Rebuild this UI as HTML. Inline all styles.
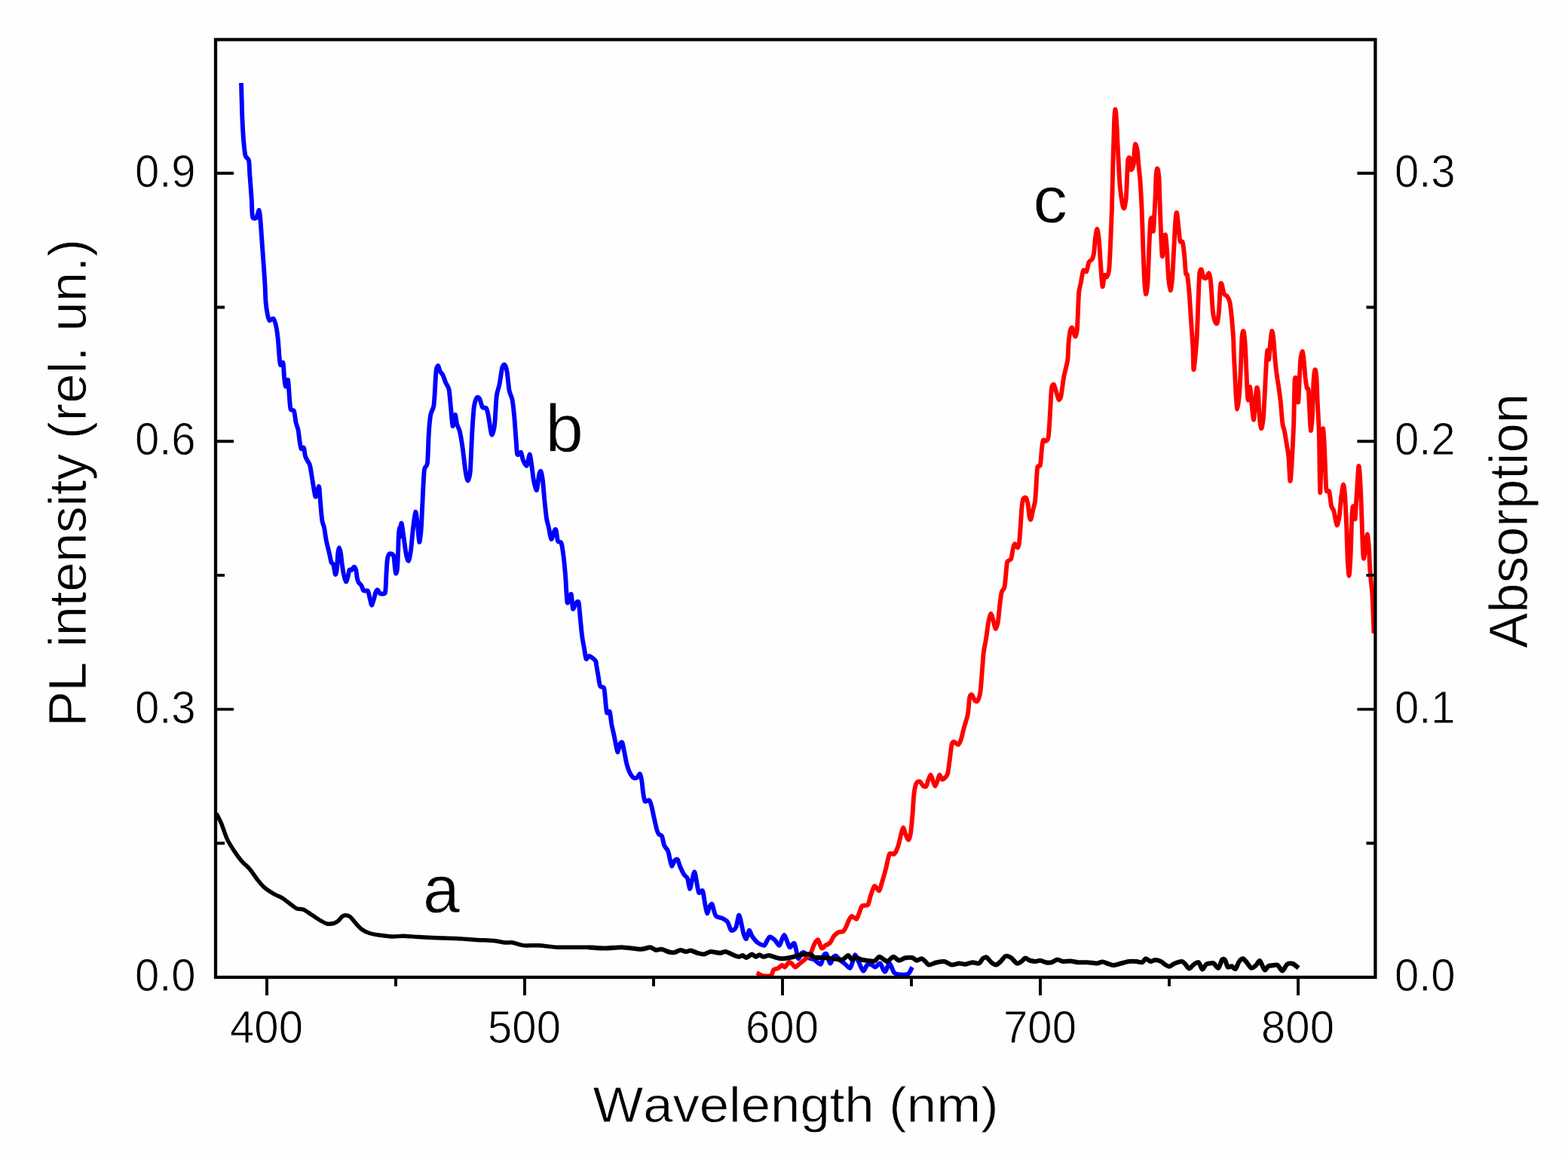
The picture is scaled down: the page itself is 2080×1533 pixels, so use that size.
<!DOCTYPE html>
<html lang="en">
<head>
<meta charset="utf-8">
<title>PL intensity and absorption spectra</title>
<style>
html,body{margin:0;padding:0;background:#fefefe;}
body{width:2080px;height:1533px;overflow:hidden;}
svg{display:block;}
text{font-kerning:none;}
</style>
</head>
<body>
<svg width="2080" height="1533" viewBox="0 0 2080 1533">
<rect x="0" y="0" width="2080" height="1533" fill="#fefefe"/>
<defs><clipPath id="plotclip"><rect x="286.0" y="52.5" width="1538.4" height="1243.5"/></clipPath></defs>
<g clip-path="url(#plotclip)">
<path d="M320.0 110.0C320.2 115.7 320.9 142.5 321.2 152.5C321.6 162.5 322.4 177.8 323.0 185.0C323.6 192.2 324.6 202.6 325.5 206.2C326.4 209.9 329.2 209.3 330.0 212.5C330.8 215.7 330.8 223.0 331.2 230.0C331.8 237.0 333.2 257.3 333.8 265.0C334.2 272.7 334.2 284.3 335.0 287.5C335.8 290.7 338.8 289.9 340.0 288.8C341.2 287.6 343.0 278.2 343.8 278.8C344.5 279.2 344.9 286.0 345.5 292.5C346.1 299.0 347.2 316.8 348.0 327.5C348.8 338.2 350.6 362.8 351.2 372.5C351.9 382.2 352.0 394.0 352.5 400.0C353.0 406.0 354.3 414.2 355.0 417.5C355.7 420.8 356.5 424.3 357.5 425.0C358.5 425.7 361.3 421.5 362.5 422.5C363.7 423.5 365.4 428.8 366.2 432.5C367.1 436.2 368.2 444.7 368.8 450.0C369.3 455.3 370.1 468.0 370.5 472.5C370.9 477.0 371.3 482.6 372.0 483.8C372.7 484.9 374.8 479.1 375.5 481.2C376.2 483.4 376.6 495.8 377.0 500.0C377.4 504.2 378.1 512.0 378.8 512.5C379.4 513.0 381.3 502.1 382.0 503.8C382.7 505.4 383.3 519.8 383.8 525.0C384.2 530.2 384.7 539.8 385.5 542.5C386.3 545.2 389.1 542.7 390.0 545.0C390.9 547.3 391.8 556.7 392.5 560.0C393.2 563.3 394.8 566.7 395.5 570.0C396.2 573.3 397.0 581.7 397.5 585.0C398.0 588.3 398.8 593.8 399.5 595.0C400.2 596.2 402.3 592.4 403.0 593.8C403.7 595.1 404.2 602.5 405.0 605.0C405.8 607.5 407.9 610.8 408.8 612.5C409.6 614.2 410.6 614.8 411.2 617.5C411.9 620.2 413.1 628.5 413.8 632.5C414.4 636.5 415.6 644.0 416.2 647.5C416.9 651.0 417.9 659.1 418.8 658.8C419.6 658.4 422.2 644.8 423.0 645.0C423.8 645.2 424.1 655.3 424.5 660.0C424.9 664.7 425.9 675.8 426.2 680.0C426.6 684.2 427.0 688.6 427.5 691.2C428.0 693.9 429.4 696.6 430.1 700.0C430.8 703.4 431.9 712.3 432.8 716.8C433.7 721.3 435.9 729.8 436.8 733.6C437.7 737.5 438.8 743.8 439.5 745.8C440.2 747.7 441.5 746.3 442.2 748.5C442.9 750.6 444.3 761.2 444.9 761.9C445.5 762.6 446.5 757.6 446.9 753.9C447.4 750.1 447.9 737.3 448.3 733.6C448.7 730.0 449.5 726.2 449.9 726.2C450.4 726.2 451.5 730.9 452.0 733.6C452.5 736.4 453.2 743.5 453.6 747.1C454.1 750.7 455.0 757.3 455.7 760.6C456.4 763.8 458.2 770.9 459.0 771.4C459.8 771.8 461.1 766.0 461.7 763.9C462.3 761.9 462.8 756.9 463.4 755.9C464.0 754.8 465.6 756.4 466.4 755.9C467.3 755.3 469.0 751.8 469.8 751.8C470.6 751.8 471.6 753.8 472.2 755.9C472.7 757.9 473.4 765.1 473.9 767.3C474.3 769.6 475.2 771.5 475.9 772.7C476.6 773.9 478.4 774.7 479.2 776.1C480.0 777.4 481.2 781.8 481.9 782.8C482.6 783.8 483.8 783.4 484.6 783.5C485.4 783.5 487.3 782.5 488.0 783.5C488.7 784.4 489.5 788.7 490.0 790.9C490.5 793.0 491.6 798.1 492.0 799.6C492.5 801.1 492.8 803.0 493.4 802.3C493.9 801.6 495.4 796.4 496.1 794.2C496.7 792.1 497.5 787.8 498.1 786.1C498.7 784.5 500.0 782.0 500.8 782.1C501.5 782.2 502.9 786.1 503.8 786.8C504.7 787.5 506.6 787.6 507.5 787.5C508.4 787.4 510.3 787.9 510.9 786.1C511.5 784.4 511.7 777.4 511.9 774.0C512.1 770.6 512.3 764.6 512.5 760.6C512.8 756.5 513.2 747.1 513.6 743.8C514.0 740.4 514.9 736.9 515.6 735.7C516.3 734.4 518.0 734.1 518.9 734.3C519.8 734.6 521.6 735.1 522.3 737.7C523.0 740.3 523.6 750.8 524.0 753.9C524.4 756.9 524.9 760.6 525.3 760.6C525.7 760.6 526.7 757.4 527.0 753.9C527.4 750.3 527.8 739.0 528.0 733.6C528.3 728.3 528.5 717.9 528.7 713.5C528.9 709.0 529.5 700.1 529.7 700.0C529.9 699.9 529.6 713.3 530.0 712.5C530.4 711.7 531.8 693.8 532.5 693.8C533.2 693.8 534.7 707.0 535.5 712.5C536.3 718.0 537.9 730.8 538.8 735.0C539.6 739.2 541.2 744.4 542.0 743.8C542.8 743.1 544.2 735.8 545.0 730.0C545.8 724.2 547.2 706.8 548.0 700.0C548.8 693.2 550.5 679.4 551.2 678.8C552.0 678.1 553.1 689.7 553.8 695.0C554.4 700.3 555.6 718.1 556.2 718.8C556.9 719.4 558.1 709.2 558.8 700.0C559.4 690.8 560.7 660.3 561.2 650.0C561.8 639.7 562.2 627.3 563.0 622.5C563.8 617.7 566.2 620.1 567.0 613.8C567.8 607.4 568.2 583.5 568.8 575.0C569.3 566.5 570.4 555.0 571.2 550.0C572.1 545.0 574.7 543.2 575.5 537.5C576.3 531.8 577.1 513.8 577.5 507.5C577.9 501.2 578.2 493.0 578.8 490.0C579.2 487.0 580.6 484.7 581.2 485.0C581.9 485.3 582.9 490.8 583.8 492.5C584.6 494.2 586.5 495.5 587.5 497.5C588.5 499.5 590.2 505.0 591.2 507.5C592.3 510.0 594.6 511.9 595.5 516.2C596.4 520.6 597.3 533.5 598.0 540.0C598.7 546.5 599.7 563.7 600.5 565.0C601.3 566.3 603.0 550.3 603.8 550.0C604.5 549.7 605.4 559.5 606.2 562.5C607.1 565.5 609.0 568.2 610.0 572.5C611.0 576.8 612.8 588.0 613.8 595.0C614.8 602.0 616.6 619.3 617.5 625.0C618.4 630.7 619.7 637.5 620.5 637.5C621.3 637.5 623.0 633.3 623.8 625.0C624.5 616.7 625.6 586.3 626.2 575.0C626.9 563.7 627.9 546.3 628.8 540.0C629.6 533.7 631.5 529.0 632.5 527.5C633.5 526.0 635.2 527.1 636.2 528.8C637.2 530.4 638.8 538.3 640.0 540.0C641.2 541.7 643.9 539.6 645.0 541.2C646.1 542.9 647.2 548.3 648.0 552.5C648.8 556.7 650.6 569.3 651.2 572.5C651.9 575.7 652.3 577.6 653.0 576.2C653.7 574.9 655.5 569.3 656.2 562.5C657.0 555.7 657.9 532.0 658.8 525.0C659.6 518.0 661.5 515.0 662.5 510.0C663.5 505.0 665.3 491.0 666.2 487.5C667.2 484.0 668.7 483.1 669.5 483.8C670.3 484.4 671.7 488.0 672.5 492.5C673.3 497.0 674.6 512.5 675.5 517.5C676.4 522.5 678.6 525.7 679.5 530.0C680.4 534.3 681.3 543.0 682.0 550.0C682.7 557.0 683.9 575.5 684.5 582.5C685.1 589.5 685.4 600.2 686.2 602.5C687.1 604.8 690.2 599.0 691.2 600.0C692.2 601.0 692.8 607.7 693.8 610.0C694.8 612.3 697.6 618.5 698.8 617.5C699.9 616.5 701.7 602.8 702.5 602.5C703.3 602.2 704.3 610.3 705.0 615.0C705.7 619.7 707.1 632.8 708.0 637.5C708.9 642.2 711.1 651.0 712.0 650.0C712.9 649.0 714.3 633.3 715.0 630.0C715.7 626.7 716.8 624.0 717.5 625.0C718.2 626.0 719.3 632.2 720.0 637.5C720.7 642.8 721.8 658.3 722.5 665.0C723.2 671.7 724.3 682.8 725.0 687.5C725.7 692.2 727.2 696.3 728.0 700.0C728.8 703.7 730.3 714.3 731.2 715.0C732.2 715.7 734.2 706.7 735.0 705.0C735.8 703.3 736.8 700.8 737.5 702.5C738.2 704.2 739.1 715.2 740.0 717.5C740.9 719.8 743.5 717.3 744.5 720.0C745.5 722.7 746.8 731.8 747.5 737.5C748.2 743.2 749.3 754.3 750.0 762.5C750.7 770.7 751.7 795.1 752.5 798.8C753.3 802.4 755.5 791.3 756.2 790.0C757.0 788.7 757.5 786.4 758.0 788.8C758.5 791.1 759.2 806.0 760.0 807.5C760.8 809.0 762.8 801.2 763.8 800.0C764.8 798.8 766.7 796.4 767.5 798.8C768.3 801.1 768.9 811.7 769.5 817.5C770.1 823.3 771.3 836.8 772.0 842.5C772.7 848.2 774.3 855.8 775.0 860.0C775.7 864.2 776.7 872.4 777.5 873.8C778.3 875.1 779.9 870.0 781.2 870.0C782.6 870.0 786.3 872.8 787.5 873.8C788.7 874.8 790.0 876.3 790.5 877.5C791.0 878.7 790.8 879.8 791.2 882.5C791.7 885.2 793.1 893.8 793.8 897.5C794.4 901.2 795.2 908.0 796.2 910.0C797.2 912.0 800.4 910.2 801.2 912.5C802.1 914.8 802.5 923.2 803.0 927.5C803.5 931.8 804.2 942.8 805.0 945.0C805.8 947.2 807.9 941.8 808.8 943.8C809.6 945.8 810.5 955.8 811.2 960.0C812.0 964.2 813.7 971.3 814.5 975.0C815.3 978.7 816.3 984.5 817.0 987.5C817.7 990.5 818.8 997.7 819.5 997.5C820.2 997.3 821.7 987.9 822.5 986.2C823.3 984.6 824.8 983.7 825.5 985.0C826.2 986.3 827.2 992.6 828.0 996.2C828.8 999.9 830.3 1008.8 831.2 1012.5C832.2 1016.2 833.8 1021.2 835.0 1023.8C836.2 1026.2 838.7 1030.2 840.0 1031.2C841.3 1032.2 843.8 1031.9 845.0 1031.2C846.2 1030.6 847.9 1025.8 848.8 1026.2C849.6 1026.8 850.7 1031.8 851.2 1035.0C851.8 1038.2 852.4 1046.3 853.0 1050.0C853.6 1053.7 854.4 1061.0 855.5 1062.5C856.6 1064.0 860.0 1060.2 861.2 1061.2C862.5 1062.2 863.7 1067.0 864.5 1070.0C865.3 1073.0 866.6 1079.8 867.5 1083.8C868.4 1087.8 870.4 1097.0 871.2 1100.0C872.1 1103.0 872.9 1105.1 873.8 1106.2C874.6 1107.4 877.0 1106.8 878.0 1108.8C879.0 1110.8 880.1 1118.6 881.2 1121.2C882.4 1123.9 885.2 1126.2 886.2 1128.8C887.2 1131.2 888.1 1137.3 888.8 1140.0C889.4 1142.7 890.4 1148.6 891.2 1148.8C892.1 1148.9 894.0 1142.4 895.0 1141.2C896.0 1140.1 897.8 1138.8 898.8 1140.0C899.8 1141.2 901.3 1147.3 902.5 1150.0C903.7 1152.7 906.2 1158.0 907.5 1160.0C908.8 1162.0 911.0 1162.5 912.0 1165.0C913.0 1167.5 914.2 1178.4 915.0 1178.8C915.8 1179.1 917.2 1170.5 918.0 1167.5C918.8 1164.5 920.5 1156.2 921.2 1156.2C922.0 1156.2 923.0 1163.8 923.8 1167.5C924.5 1171.2 925.9 1181.9 927.0 1183.8C928.1 1185.6 930.9 1179.4 932.0 1181.2C933.1 1183.1 934.2 1193.5 935.0 1197.5C935.8 1201.5 937.2 1210.6 938.0 1211.2C938.8 1211.9 940.4 1204.2 941.2 1202.5C942.1 1200.8 943.7 1198.1 944.5 1198.8C945.3 1199.4 946.3 1205.3 947.0 1207.5C947.7 1209.7 948.6 1213.7 950.0 1215.0C951.4 1216.3 955.5 1216.5 957.5 1217.5C959.5 1218.5 963.3 1220.3 965.0 1222.5C966.7 1224.7 968.5 1232.8 970.0 1233.8C971.5 1234.8 974.9 1232.7 976.2 1230.0C977.6 1227.3 979.1 1214.8 980.0 1213.8C980.9 1212.8 982.2 1219.3 983.0 1222.5C983.8 1225.7 985.3 1234.5 986.2 1237.5C987.2 1240.5 989.0 1245.5 990.0 1245.0C991.0 1244.5 992.8 1234.2 993.8 1233.8C994.8 1233.2 996.0 1239.1 997.5 1241.2C999.0 1243.4 1002.8 1248.3 1005.0 1250.0C1007.2 1251.7 1012.1 1254.1 1013.8 1253.8C1015.4 1253.4 1016.5 1249.0 1017.5 1247.5C1018.5 1246.0 1019.9 1242.7 1021.2 1242.5C1022.6 1242.3 1025.8 1244.8 1027.5 1246.2C1029.2 1247.8 1032.4 1253.9 1033.8 1253.8C1035.1 1253.6 1036.6 1246.8 1037.5 1245.0C1038.4 1243.2 1039.7 1239.7 1040.5 1240.0C1041.3 1240.3 1042.8 1245.3 1043.8 1247.5C1044.7 1249.7 1046.5 1255.6 1047.5 1256.2C1048.5 1256.9 1050.4 1253.2 1051.2 1252.5C1052.1 1251.8 1053.1 1250.2 1053.8 1251.2C1054.4 1252.2 1055.6 1257.3 1056.2 1260.0C1056.9 1262.7 1057.8 1270.8 1058.8 1271.2C1059.8 1271.8 1062.6 1264.8 1063.8 1263.8C1064.9 1262.8 1066.3 1262.9 1067.5 1263.8C1068.7 1264.6 1070.8 1268.8 1072.5 1270.0C1074.2 1271.2 1077.8 1271.3 1080.0 1272.5C1082.2 1273.7 1087.1 1279.4 1088.8 1278.8C1090.4 1278.1 1091.5 1269.3 1092.5 1267.5C1093.5 1265.7 1095.1 1263.7 1096.2 1265.0C1097.4 1266.3 1100.1 1276.8 1101.2 1277.5C1102.4 1278.2 1104.0 1271.3 1105.0 1270.0C1106.0 1268.7 1107.4 1267.0 1108.8 1267.5C1110.1 1268.0 1113.5 1272.4 1115.0 1273.8C1116.5 1275.1 1118.3 1276.2 1120.0 1277.5C1121.7 1278.8 1126.0 1284.1 1127.5 1283.8C1129.0 1283.4 1130.3 1277.3 1131.2 1275.0C1132.2 1272.7 1133.5 1266.2 1134.5 1266.2C1135.5 1266.2 1137.3 1272.2 1138.8 1275.0C1140.2 1277.8 1143.5 1286.8 1145.0 1287.5C1146.5 1288.2 1148.7 1281.2 1150.0 1280.0C1151.3 1278.8 1153.5 1278.4 1155.0 1278.8C1156.5 1279.1 1159.6 1282.7 1161.2 1282.5C1162.9 1282.3 1165.8 1276.7 1167.5 1277.5C1169.2 1278.3 1172.1 1288.8 1173.8 1288.8C1175.4 1288.8 1178.3 1277.3 1180.0 1277.5C1181.7 1277.7 1184.2 1288.0 1186.2 1290.0C1188.2 1292.0 1192.5 1292.3 1195.0 1292.5C1197.5 1292.7 1203.0 1292.6 1205.0 1291.2C1207.0 1289.9 1209.3 1283.7 1210.0 1282.5" fill="none" stroke="#0000ff" stroke-width="5.9" stroke-linejoin="round" stroke-linecap="butt"/>
<path d="M1003.8 1290.0C1004.8 1290.5 1008.8 1293.2 1011.2 1293.8C1013.8 1294.2 1020.5 1294.8 1022.5 1293.8C1024.5 1292.8 1024.9 1287.6 1026.2 1286.2C1027.6 1284.9 1031.0 1284.6 1032.5 1283.8C1034.0 1282.9 1036.3 1280.2 1037.5 1280.0C1038.7 1279.8 1040.1 1283.0 1041.2 1282.5C1042.4 1282.0 1045.1 1276.9 1046.2 1276.2C1047.4 1275.6 1048.8 1276.7 1050.0 1277.5C1051.2 1278.3 1053.5 1282.5 1055.0 1282.5C1056.5 1282.5 1059.6 1278.8 1061.2 1277.5C1062.9 1276.2 1065.7 1274.2 1067.5 1272.5C1069.3 1270.8 1073.3 1267.7 1075.0 1265.0C1076.7 1262.3 1078.7 1255.0 1080.0 1252.5C1081.3 1250.0 1083.7 1245.6 1085.0 1246.2C1086.3 1246.9 1088.7 1256.5 1090.0 1257.5C1091.3 1258.5 1093.5 1254.8 1095.0 1253.8C1096.5 1252.8 1099.8 1251.7 1101.2 1250.0C1102.8 1248.3 1104.8 1243.1 1106.2 1241.2C1107.8 1239.4 1110.8 1237.1 1112.5 1236.2C1114.2 1235.4 1117.4 1236.0 1118.8 1235.0C1120.1 1234.0 1121.5 1230.8 1122.5 1228.8C1123.5 1226.8 1125.2 1221.8 1126.2 1220.0C1127.2 1218.2 1128.7 1215.2 1130.0 1215.0C1131.3 1214.8 1134.9 1219.4 1136.2 1218.8C1137.6 1218.1 1139.0 1212.3 1140.0 1210.0C1141.0 1207.7 1142.2 1202.6 1143.8 1201.2C1145.2 1199.9 1149.8 1201.8 1151.2 1200.0C1152.8 1198.2 1153.8 1190.8 1155.0 1187.5C1156.2 1184.2 1158.5 1175.8 1160.0 1175.0C1161.5 1174.2 1164.9 1181.9 1166.2 1181.2C1167.6 1180.6 1168.8 1173.8 1170.0 1170.0C1171.2 1166.2 1173.7 1157.5 1175.0 1152.5C1176.3 1147.5 1178.5 1135.2 1180.0 1132.5C1181.5 1129.8 1184.8 1133.8 1186.2 1132.5C1187.8 1131.2 1190.1 1125.8 1191.2 1122.5C1192.4 1119.2 1194.1 1110.8 1195.0 1107.5C1195.9 1104.2 1197.2 1097.7 1198.0 1097.5C1198.8 1097.3 1200.3 1104.1 1201.2 1106.2C1202.2 1108.4 1204.1 1113.9 1205.0 1113.8C1205.9 1113.6 1207.3 1109.5 1208.0 1105.0C1208.7 1100.5 1209.9 1087.0 1210.5 1080.0C1211.1 1073.0 1211.8 1058.0 1212.5 1052.5C1213.2 1047.0 1214.5 1040.9 1215.5 1038.8C1216.5 1036.6 1218.7 1035.8 1220.0 1036.2C1221.3 1036.8 1223.8 1041.7 1225.0 1042.5C1226.2 1043.3 1227.9 1043.5 1228.8 1042.5C1229.6 1041.5 1230.5 1037.0 1231.2 1035.0C1232.0 1033.0 1233.7 1027.5 1234.5 1027.5C1235.3 1027.5 1236.7 1033.0 1237.5 1035.0C1238.3 1037.0 1239.7 1042.5 1240.5 1042.5C1241.3 1042.5 1243.0 1037.0 1243.8 1035.0C1244.5 1033.0 1245.4 1027.7 1246.2 1027.5C1247.1 1027.3 1249.0 1033.2 1250.0 1033.8C1251.0 1034.2 1252.8 1032.2 1253.8 1031.2C1254.7 1030.2 1256.2 1029.1 1257.0 1026.2C1257.8 1023.4 1258.8 1015.2 1259.5 1010.0C1260.2 1004.8 1261.7 991.0 1262.5 987.5C1263.3 984.0 1264.3 983.8 1265.5 983.8C1266.7 983.8 1270.0 988.0 1271.2 987.5C1272.5 987.0 1274.0 983.0 1275.0 980.0C1276.0 977.0 1277.6 969.3 1278.8 965.0C1279.9 960.7 1282.8 952.8 1283.8 947.5C1284.8 942.2 1285.5 928.5 1286.2 925.0C1287.0 921.5 1288.3 920.8 1289.2 921.2C1290.2 921.8 1292.1 927.6 1293.0 928.8C1293.9 929.9 1295.4 930.8 1296.2 930.0C1297.1 929.2 1298.8 925.2 1299.5 922.5C1300.2 919.8 1300.8 914.7 1301.2 910.0C1301.7 905.3 1302.5 893.7 1303.0 887.5C1303.5 881.3 1304.3 869.1 1305.0 863.8C1305.7 858.4 1307.2 852.7 1308.0 847.5C1308.8 842.3 1310.4 829.5 1311.2 825.0C1312.1 820.5 1313.4 814.1 1314.2 813.8C1315.1 813.4 1316.7 819.8 1317.5 822.5C1318.3 825.2 1319.7 833.4 1320.5 833.8C1321.3 834.1 1323.0 829.2 1323.8 825.0C1324.5 820.8 1325.6 807.8 1326.2 802.5C1326.9 797.2 1327.9 788.2 1328.8 785.0C1329.6 781.8 1331.7 782.1 1332.5 778.8C1333.3 775.4 1334.0 764.5 1334.5 760.0C1335.0 755.5 1335.3 747.5 1336.2 745.0C1337.2 742.5 1340.2 743.6 1341.2 741.2C1342.2 738.9 1343.1 730.2 1343.8 727.5C1344.4 724.8 1345.4 721.4 1346.2 721.2C1347.1 721.1 1349.2 726.4 1350.0 726.2C1350.8 726.1 1351.5 723.8 1352.0 720.0C1352.5 716.2 1353.3 703.8 1353.8 697.5C1354.2 691.2 1355.0 677.3 1355.5 672.5C1356.0 667.7 1356.7 662.9 1357.5 661.2C1358.3 659.6 1360.4 659.3 1361.2 660.5C1362.1 661.7 1363.2 666.7 1363.8 670.0C1364.3 673.3 1365.0 682.5 1365.5 685.0C1366.0 687.5 1366.9 689.8 1367.5 688.8C1368.1 687.8 1369.3 680.7 1370.0 677.5C1370.7 674.3 1372.4 669.3 1373.0 665.0C1373.6 660.7 1374.1 651.0 1374.5 645.0C1374.9 639.0 1375.5 623.8 1376.2 620.0C1377.0 616.2 1379.2 619.6 1380.0 616.2C1380.8 612.9 1381.5 599.3 1382.0 595.0C1382.5 590.7 1383.0 585.1 1383.8 583.8C1384.5 582.4 1386.7 585.2 1387.5 585.0C1388.3 584.8 1389.5 583.8 1390.0 582.5C1390.5 581.2 1390.8 579.7 1391.2 575.0C1391.7 570.3 1392.5 555.5 1393.0 547.5C1393.5 539.5 1394.3 520.0 1395.0 515.0C1395.7 510.0 1397.2 509.3 1398.0 510.0C1398.8 510.7 1400.4 517.3 1401.2 520.0C1402.1 522.7 1403.7 529.3 1404.5 530.0C1405.3 530.7 1406.6 529.0 1407.5 525.0C1408.4 521.0 1410.1 506.3 1411.2 500.0C1412.4 493.7 1415.4 483.5 1416.2 477.5C1417.1 471.5 1417.0 460.3 1417.5 455.0C1418.0 449.7 1419.3 440.2 1420.0 437.5C1420.7 434.8 1421.7 433.8 1422.5 435.0C1423.3 436.2 1425.4 445.9 1426.2 446.2C1427.1 446.6 1428.2 442.0 1428.8 437.5C1429.2 433.0 1429.7 419.2 1430.0 412.5C1430.3 405.8 1430.8 392.5 1431.2 387.5C1431.8 382.5 1433.0 378.8 1433.8 375.0C1434.5 371.2 1436.0 360.8 1437.0 358.8C1438.0 356.8 1440.2 361.5 1441.2 360.0C1442.2 358.5 1443.5 349.7 1444.5 347.5C1445.5 345.3 1447.8 345.4 1448.8 343.8C1449.7 342.1 1450.7 338.8 1451.2 335.0C1451.8 331.2 1452.4 319.2 1453.0 315.0C1453.6 310.8 1454.8 303.1 1455.5 303.8C1456.2 304.4 1457.4 313.8 1458.0 320.0C1458.6 326.2 1459.4 342.0 1460.0 350.0C1460.6 358.0 1461.8 378.0 1462.5 380.0C1463.2 382.0 1464.3 366.7 1465.0 365.0C1465.7 363.3 1467.2 368.5 1468.0 367.5C1468.8 366.5 1470.6 363.2 1471.2 357.5C1471.9 351.8 1472.5 336.0 1473.0 325.0C1473.5 314.0 1474.6 288.3 1475.0 275.0C1475.4 261.7 1475.8 240.0 1476.2 225.0C1476.7 210.0 1477.6 173.2 1478.0 162.5C1478.4 151.8 1479.1 145.0 1479.5 145.0C1479.9 145.0 1480.8 155.2 1481.2 162.5C1481.7 169.8 1482.4 189.0 1483.0 200.0C1483.6 211.0 1484.7 235.7 1485.5 245.0C1486.3 254.3 1488.0 265.8 1488.8 270.0C1489.5 274.2 1490.6 277.2 1491.2 276.2C1491.9 275.2 1493.2 267.7 1493.8 262.5C1494.2 257.3 1494.7 244.2 1495.0 237.5C1495.3 230.8 1495.8 216.2 1496.2 212.5C1496.8 208.8 1498.2 208.3 1498.8 210.0C1499.3 211.7 1499.8 224.0 1500.5 225.0C1501.2 226.0 1503.2 221.2 1503.8 217.5C1504.3 213.8 1504.7 201.0 1505.0 197.5C1505.3 194.0 1505.8 190.9 1506.2 191.2C1506.8 191.6 1508.2 196.2 1508.8 200.0C1509.3 203.8 1510.0 214.7 1510.5 220.0C1511.0 225.3 1512.0 232.7 1512.5 240.0C1513.0 247.3 1514.0 263.7 1514.5 275.0C1515.0 286.3 1515.8 312.3 1516.2 325.0C1516.7 337.7 1517.5 361.3 1518.0 370.0C1518.5 378.7 1519.4 389.3 1520.0 390.0C1520.6 390.7 1521.9 383.7 1522.5 375.0C1523.1 366.3 1524.0 336.0 1524.5 325.0C1525.0 314.0 1525.7 297.2 1526.2 292.5C1526.8 287.8 1528.2 288.2 1528.8 290.0C1529.2 291.8 1529.5 309.9 1530.0 306.2C1530.5 302.6 1532.0 272.7 1532.5 262.5C1533.0 252.3 1533.3 235.2 1533.8 230.0C1534.2 224.8 1535.0 222.8 1535.5 223.8C1536.0 224.8 1537.1 230.7 1537.5 237.5C1537.9 244.3 1538.3 264.0 1538.8 275.0C1539.2 286.0 1540.1 311.3 1540.5 320.0C1540.9 328.7 1541.5 340.7 1542.0 340.0C1542.5 339.3 1543.9 318.7 1544.5 315.0C1545.1 311.3 1545.8 310.2 1546.2 312.5C1546.7 314.8 1547.5 325.2 1548.0 332.5C1548.5 339.8 1549.4 360.5 1550.0 367.5C1550.6 374.5 1551.8 384.7 1552.5 385.0C1553.2 385.3 1554.3 378.0 1555.0 370.0C1555.7 362.0 1556.9 335.7 1557.5 325.0C1558.1 314.3 1559.0 295.7 1559.5 290.0C1560.0 284.3 1560.7 280.5 1561.2 282.5C1561.8 284.5 1563.2 300.0 1563.8 305.0C1564.3 310.0 1564.8 317.8 1565.5 320.0C1566.2 322.2 1568.0 318.6 1568.8 321.2C1569.5 323.9 1570.7 334.5 1571.2 340.0C1571.8 345.5 1572.5 359.2 1573.0 362.5C1573.5 365.8 1574.4 361.7 1575.0 365.0C1575.6 368.3 1576.8 379.5 1577.5 387.5C1578.2 395.5 1579.3 415.0 1580.0 425.0C1580.7 435.0 1582.0 453.8 1582.5 462.5C1583.0 471.2 1582.9 491.9 1583.6 490.2C1584.2 488.5 1586.7 462.0 1587.5 450.0C1588.3 438.0 1589.0 411.7 1589.5 400.0C1590.0 388.3 1590.7 368.2 1591.2 362.5C1591.8 356.8 1593.1 356.8 1593.8 357.5C1594.4 358.2 1595.4 366.0 1596.2 367.5C1597.1 369.0 1599.0 369.4 1600.0 368.8C1601.0 368.1 1602.9 361.7 1603.8 362.5C1604.6 363.3 1605.6 368.3 1606.2 375.0C1606.9 381.7 1608.1 405.8 1608.8 412.5C1609.4 419.2 1610.5 422.8 1611.2 425.0C1612.0 427.2 1613.7 430.4 1614.5 428.8C1615.3 427.1 1616.4 419.0 1617.0 412.5C1617.6 406.0 1618.3 384.8 1618.8 380.0C1619.2 375.2 1619.8 374.9 1620.5 376.2C1621.2 377.6 1622.8 387.8 1623.8 390.0C1624.7 392.2 1626.5 391.2 1627.5 392.5C1628.5 393.8 1630.4 396.3 1631.2 400.0C1632.1 403.7 1633.1 413.3 1633.8 420.0C1634.4 426.7 1635.9 443.7 1636.2 450.0C1636.6 456.3 1636.3 457.8 1636.7 467.3C1637.2 476.8 1638.8 511.1 1639.4 521.1C1640.0 531.2 1640.8 542.7 1641.4 542.7C1642.1 542.7 1643.5 529.4 1644.1 521.1C1644.8 512.9 1645.7 490.6 1646.2 480.8C1646.6 470.9 1647.1 452.7 1647.5 447.1C1647.9 441.6 1649.0 438.1 1649.5 439.0C1650.1 439.9 1651.1 448.3 1651.5 453.9C1652.0 459.4 1652.5 473.1 1652.9 480.8C1653.2 488.5 1653.9 505.1 1654.2 511.7C1654.6 518.4 1655.0 530.4 1655.6 530.6C1656.1 530.8 1657.6 512.5 1658.3 513.1C1658.9 513.6 1659.7 528.8 1660.3 534.6C1660.9 540.5 1662.4 556.8 1663.0 556.8C1663.6 556.8 1664.5 540.3 1665.0 534.6C1665.5 529.0 1666.5 516.2 1667.0 514.4C1667.6 512.6 1668.6 516.7 1669.0 521.1C1669.5 525.6 1669.8 541.8 1670.4 548.1C1670.9 554.4 1672.4 567.4 1673.1 568.3C1673.8 569.2 1675.1 561.1 1675.8 554.8C1676.4 548.5 1677.3 531.0 1677.8 521.1C1678.3 511.3 1679.4 488.3 1679.8 480.8C1680.3 473.2 1680.7 465.2 1681.2 464.6C1681.6 464.1 1682.6 478.2 1683.2 476.7C1683.7 475.3 1684.7 458.9 1685.2 453.9C1685.7 448.8 1686.7 439.8 1687.2 439.0C1687.7 438.3 1688.7 443.8 1689.2 448.5C1689.8 453.1 1690.7 467.9 1691.2 474.0C1691.8 480.1 1692.6 489.2 1693.3 494.2C1693.9 499.3 1695.2 506.7 1696.0 511.7C1696.7 516.8 1697.9 525.3 1698.7 531.9C1699.4 538.6 1700.6 556.2 1701.3 561.5C1702.1 566.9 1703.3 568.7 1704.0 572.3C1704.8 575.9 1706.0 584.0 1706.7 588.5C1707.4 592.9 1708.8 599.4 1709.4 606.0C1710.0 612.5 1710.9 636.3 1711.4 637.8C1712.0 639.3 1712.8 627.1 1713.5 616.9C1714.1 606.8 1715.6 576.5 1716.2 561.5C1716.7 546.6 1717.0 512.5 1717.5 505.0C1718.0 497.5 1719.6 501.2 1720.2 505.0C1720.8 508.8 1721.6 536.5 1722.2 533.3C1722.8 530.0 1724.2 489.7 1724.9 480.8C1725.6 471.8 1727.0 466.3 1727.6 466.0C1728.2 465.6 1729.1 473.4 1729.6 478.1C1730.2 482.7 1731.1 496.1 1731.6 501.0C1732.2 505.8 1733.1 512.3 1733.7 514.4C1734.2 516.6 1735.2 513.5 1735.7 517.1C1736.1 520.7 1736.6 534.2 1737.0 541.4C1737.4 548.5 1738.2 570.1 1738.8 571.0C1739.3 571.9 1740.6 556.5 1741.1 548.1C1741.5 539.6 1742.0 515.4 1742.4 507.7C1742.8 500.0 1743.9 491.1 1744.4 490.2C1745.0 489.3 1746.0 495.0 1746.4 501.0C1746.9 506.9 1747.3 524.7 1747.8 534.6C1748.2 544.5 1749.4 559.2 1749.8 575.0C1750.3 590.8 1750.7 651.5 1751.2 653.3C1751.6 655.1 1752.8 599.8 1753.3 588.5C1753.8 577.1 1754.6 568.3 1755.1 568.3C1755.5 568.3 1756.2 580.2 1756.7 588.5C1757.1 596.7 1758.0 622.1 1758.4 630.4C1758.8 638.7 1759.0 647.7 1759.6 650.6C1760.3 653.5 1762.4 649.2 1763.3 651.9C1764.1 654.6 1765.2 667.4 1766.0 670.8C1766.8 674.2 1768.3 674.1 1769.3 677.5C1770.3 680.9 1772.4 695.5 1773.4 696.4C1774.4 697.2 1775.9 689.4 1776.7 684.2C1777.5 679.0 1778.7 662.9 1779.4 657.3C1780.1 651.7 1781.5 642.5 1782.1 642.5C1782.7 642.5 1783.6 650.0 1784.1 657.3C1784.7 664.7 1785.7 686.9 1786.2 697.7C1786.6 708.5 1787.1 729.3 1787.5 738.1C1787.9 746.9 1789.0 763.6 1789.5 763.6C1790.1 763.6 1791.1 746.9 1791.5 738.1C1792.0 729.3 1792.5 706.3 1792.9 697.7C1793.2 689.1 1793.8 676.8 1794.2 673.5C1794.7 670.1 1795.8 670.8 1796.2 672.8C1796.7 674.8 1797.2 690.3 1797.6 688.3C1798.0 686.2 1799.0 666.6 1799.6 657.3C1800.2 648.0 1801.7 621.0 1802.3 618.3C1802.9 615.6 1803.8 628.3 1804.3 637.1C1804.9 645.9 1805.9 672.6 1806.3 684.2C1806.8 695.9 1807.3 717.1 1807.7 724.6C1808.0 732.2 1808.5 740.8 1809.0 740.8C1809.6 740.8 1811.1 728.9 1811.7 724.6C1812.4 720.3 1813.2 708.5 1813.8 708.5C1814.3 708.5 1815.3 718.9 1815.8 724.6C1816.2 730.4 1816.8 745.6 1817.1 751.5C1817.5 757.5 1818.0 763.9 1818.5 769.0C1818.9 774.2 1820.0 780.5 1820.5 790.0C1821.0 799.5 1822.2 833.3 1822.5 840.0" fill="none" stroke="#ff0000" stroke-width="5.9" stroke-linejoin="round" stroke-linecap="butt"/>
<path d="M780.0 1256.2C784.3 1256.4 796.5 1257.5 802.5 1257.5C808.5 1257.5 818.7 1256.1 825.0 1256.2C831.3 1256.4 845.0 1258.8 850.0 1258.8C855.0 1258.8 859.8 1256.1 862.5 1256.2C865.2 1256.4 868.0 1259.7 870.0 1260.0C872.0 1260.3 875.2 1258.4 877.5 1258.8C879.8 1259.1 885.2 1261.9 887.5 1262.5C889.8 1263.1 893.0 1263.3 895.0 1263.0C897.0 1262.7 900.5 1260.1 902.5 1260.0C904.5 1259.9 908.2 1261.9 910.0 1262.0C911.8 1262.1 914.2 1260.3 916.2 1260.5C918.2 1260.7 922.7 1263.1 925.0 1263.8C927.3 1264.4 931.4 1265.7 933.8 1265.5C936.1 1265.3 939.7 1262.2 942.5 1262.0C945.3 1261.8 952.3 1263.8 955.0 1263.8C957.7 1263.8 960.2 1261.7 962.5 1262.0C964.8 1262.3 970.2 1265.3 972.5 1266.2C974.8 1267.2 978.3 1268.7 980.0 1268.8C981.7 1268.8 983.7 1266.8 985.0 1267.0C986.3 1267.2 988.3 1270.2 990.0 1270.0C991.7 1269.8 995.8 1265.7 997.5 1265.5C999.2 1265.3 1001.2 1268.7 1002.5 1268.8C1003.8 1268.8 1006.2 1266.2 1007.5 1266.2C1008.8 1266.2 1010.8 1268.7 1012.5 1268.8C1014.2 1268.8 1017.7 1266.8 1020.0 1267.0C1022.3 1267.2 1027.7 1269.4 1030.0 1270.0C1032.3 1270.6 1034.8 1271.3 1037.5 1271.2C1040.2 1271.2 1046.7 1270.2 1050.0 1269.5C1053.3 1268.8 1059.2 1266.8 1062.5 1266.2C1065.8 1265.7 1072.7 1265.1 1075.0 1265.5C1077.3 1265.9 1077.7 1268.9 1080.0 1269.5C1082.3 1270.1 1089.2 1269.8 1092.5 1270.0C1095.8 1270.2 1101.7 1270.9 1105.0 1271.2C1108.3 1271.6 1114.8 1273.1 1117.5 1272.5C1120.2 1271.9 1123.3 1267.0 1125.0 1267.0C1126.7 1267.0 1128.7 1272.2 1130.0 1272.5C1131.3 1272.8 1133.3 1269.5 1135.0 1269.5C1136.7 1269.5 1140.5 1271.9 1142.5 1272.5C1144.5 1273.1 1147.7 1273.5 1150.0 1273.8C1152.3 1274.0 1157.8 1275.2 1160.0 1274.5C1162.2 1273.8 1164.6 1269.0 1166.2 1268.8C1167.9 1268.5 1171.0 1271.7 1172.5 1272.5C1174.0 1273.3 1175.8 1275.5 1177.5 1275.0C1179.2 1274.5 1183.0 1268.9 1185.0 1268.8C1187.0 1268.6 1190.5 1273.5 1192.5 1273.8C1194.5 1274.0 1197.7 1271.0 1200.0 1270.5C1202.3 1270.0 1207.8 1269.6 1210.0 1270.0C1212.2 1270.4 1214.6 1273.6 1216.2 1273.8C1217.9 1273.9 1221.0 1271.1 1222.5 1271.2C1224.0 1271.4 1226.2 1273.9 1227.5 1275.0C1228.8 1276.1 1230.5 1279.3 1232.5 1279.5C1234.5 1279.7 1239.8 1276.8 1242.5 1276.2C1245.2 1275.7 1249.8 1274.6 1252.5 1275.0C1255.2 1275.4 1259.8 1279.2 1262.5 1279.5C1265.2 1279.8 1270.2 1277.6 1272.5 1277.5C1274.8 1277.4 1277.7 1278.9 1280.0 1278.8C1282.3 1278.6 1287.5 1276.4 1290.0 1276.2C1292.5 1276.1 1296.9 1278.2 1298.8 1277.5C1300.6 1276.8 1302.4 1272.3 1303.8 1271.2C1305.1 1270.2 1307.2 1268.8 1308.8 1269.5C1310.2 1270.2 1313.3 1274.9 1315.0 1276.2C1316.7 1277.6 1319.6 1279.7 1321.2 1279.5C1322.9 1279.3 1325.8 1276.5 1327.5 1275.0C1329.2 1273.5 1331.9 1268.7 1333.8 1268.0C1335.6 1267.3 1339.2 1268.7 1341.2 1270.0C1343.2 1271.3 1346.9 1276.8 1348.8 1277.5C1350.6 1278.2 1353.5 1275.9 1355.0 1275.0C1356.5 1274.1 1358.5 1270.7 1360.0 1270.5C1361.5 1270.3 1364.4 1273.2 1366.2 1273.8C1368.1 1274.3 1371.9 1275.0 1373.8 1275.0C1375.6 1275.0 1378.2 1273.6 1380.0 1273.8C1381.8 1273.9 1385.5 1275.9 1387.5 1276.2C1389.5 1276.6 1393.0 1276.8 1395.0 1276.2C1397.0 1275.8 1400.5 1272.7 1402.5 1272.5C1404.5 1272.3 1407.7 1274.7 1410.0 1275.0C1412.3 1275.3 1417.3 1274.3 1420.0 1274.5C1422.7 1274.7 1427.0 1276.0 1430.0 1276.2C1433.0 1276.5 1439.2 1276.1 1442.5 1276.2C1445.8 1276.4 1452.3 1277.6 1455.0 1277.5C1457.7 1277.4 1460.5 1275.4 1462.5 1275.5C1464.5 1275.6 1468.0 1277.4 1470.0 1278.0C1472.0 1278.6 1475.2 1280.1 1477.5 1280.0C1479.8 1279.9 1484.8 1278.2 1487.5 1277.5C1490.2 1276.8 1494.8 1275.3 1497.5 1275.0C1500.2 1274.7 1505.2 1274.8 1507.5 1275.0C1509.8 1275.2 1513.3 1276.8 1515.0 1276.2C1516.7 1275.8 1518.5 1271.4 1520.0 1271.2C1521.5 1271.1 1524.6 1274.8 1526.2 1275.0C1527.9 1275.2 1530.7 1273.0 1532.5 1273.0C1534.3 1273.0 1538.3 1274.2 1540.0 1275.0C1541.7 1275.8 1543.5 1277.8 1545.0 1278.8C1546.5 1279.7 1549.6 1281.8 1551.2 1281.8C1552.9 1281.7 1555.3 1278.9 1557.5 1278.0C1559.7 1277.1 1565.5 1274.9 1567.5 1275.0C1569.5 1275.1 1571.2 1277.5 1572.5 1278.8C1573.8 1280.0 1576.0 1284.5 1577.5 1284.5C1579.0 1284.5 1582.1 1279.8 1583.8 1278.8C1585.4 1277.7 1588.5 1275.3 1590.0 1276.2C1591.5 1277.2 1593.7 1285.2 1595.0 1285.5C1596.3 1285.8 1598.7 1279.8 1600.0 1278.8C1601.3 1277.7 1603.7 1277.7 1605.0 1277.5C1606.3 1277.3 1608.5 1276.7 1610.0 1277.5C1611.5 1278.3 1614.8 1284.4 1616.2 1283.8C1617.8 1283.1 1620.1 1273.9 1621.2 1272.5C1622.4 1271.1 1624.0 1271.7 1625.0 1273.0C1626.0 1274.3 1627.6 1281.4 1628.8 1282.5C1629.9 1283.6 1632.4 1280.9 1633.8 1281.2C1635.1 1281.6 1637.4 1285.8 1638.8 1285.0C1640.1 1284.2 1642.4 1276.8 1643.8 1275.0C1645.1 1273.2 1647.4 1271.1 1648.8 1271.2C1650.1 1271.4 1652.2 1274.6 1653.8 1276.2C1655.2 1277.9 1658.3 1283.2 1660.0 1283.8C1661.7 1284.2 1664.8 1281.3 1666.2 1280.0C1667.8 1278.7 1669.8 1273.4 1671.2 1274.2C1672.8 1275.1 1676.0 1285.3 1677.5 1286.2C1679.0 1287.2 1680.8 1282.1 1682.5 1281.2C1684.2 1280.4 1688.3 1280.2 1690.0 1280.0C1691.7 1279.8 1693.5 1279.0 1695.0 1280.0C1696.5 1281.0 1699.6 1287.7 1701.2 1287.5C1702.9 1287.3 1705.7 1280.0 1707.5 1278.8C1709.3 1277.5 1713.0 1277.3 1715.0 1278.0C1717.0 1278.7 1721.5 1283.0 1722.5 1283.8" fill="none" stroke="#000000" stroke-width="6.1" stroke-linejoin="round" stroke-linecap="butt"/>
<path d="M287.0 1078.8C287.9 1080.6 291.9 1088.0 293.8 1092.5C295.6 1097.0 299.1 1107.8 301.2 1112.5C303.4 1117.2 307.5 1123.7 310.0 1127.5C312.5 1131.3 317.2 1137.9 320.0 1141.2C322.8 1144.6 328.4 1149.2 331.2 1152.5C334.1 1155.8 338.8 1163.1 341.2 1166.2C343.8 1169.4 347.2 1173.8 350.0 1176.2C352.8 1178.8 359.2 1183.0 362.5 1185.0C365.8 1187.0 372.0 1189.4 375.0 1191.2C378.0 1193.1 382.5 1196.9 385.0 1198.8C387.5 1200.6 391.4 1204.0 393.8 1205.0C396.1 1206.0 400.0 1205.2 402.5 1206.2C405.0 1207.2 409.7 1210.7 412.5 1212.5C415.3 1214.3 420.9 1218.3 423.8 1220.0C426.6 1221.7 431.2 1224.4 433.8 1225.0C436.2 1225.6 440.5 1225.0 442.5 1224.5C444.5 1224.0 447.2 1222.5 448.8 1221.2C450.2 1220.0 452.4 1216.5 453.8 1215.5C455.1 1214.5 457.2 1213.7 458.8 1213.8C460.2 1213.8 463.2 1214.8 465.0 1216.2C466.8 1217.8 470.5 1222.8 472.5 1225.0C474.5 1227.2 477.7 1230.8 480.0 1232.5C482.3 1234.2 487.0 1236.5 490.0 1237.5C493.0 1238.5 498.5 1239.4 502.5 1240.0C506.5 1240.6 515.7 1241.8 520.0 1242.0C524.3 1242.2 530.3 1241.2 535.0 1241.2C539.7 1241.3 549.0 1242.2 555.0 1242.5C561.0 1242.8 573.3 1243.5 580.0 1243.8C586.7 1244.0 598.3 1244.2 605.0 1244.5C611.7 1244.8 623.3 1245.8 630.0 1246.2C636.7 1246.7 649.7 1247.0 655.0 1247.5C660.3 1248.0 666.7 1249.7 670.0 1250.0C673.3 1250.3 676.7 1249.5 680.0 1250.0C683.3 1250.5 690.3 1253.2 695.0 1253.8C699.7 1254.2 709.0 1253.4 715.0 1253.8C721.0 1254.1 732.7 1255.9 740.0 1256.2C747.3 1256.6 764.7 1256.2 770.0 1256.2C775.3 1256.2 775.7 1256.1 780.0 1256.2" fill="none" stroke="#000000" stroke-width="5.5" stroke-linejoin="round" stroke-linecap="butt"/>
</g>
<path d="M354.0 1296.0V1320.0M696.0 1296.0V1320.0M1038.0 1296.0V1320.0M1380.0 1296.0V1320.0M1722.0 1296.0V1320.0M525.0 1296.0V1308.0M867.0 1296.0V1308.0M1209.0 1296.0V1308.0M1551.0 1296.0V1308.0M286.0 940.6H310.0M1824.4 940.6H1800.4M286.0 585.2H310.0M1824.4 585.2H1800.4M286.0 229.8H310.0M1824.4 229.8H1800.4M286.0 1118.3H298.0M1824.4 1118.3H1812.4M286.0 762.9H298.0M1824.4 762.9H1812.4M286.0 407.5H298.0M1824.4 407.5H1812.4" stroke="#000" stroke-width="3.9" fill="none"/>
<rect x="286.0" y="52.5" width="1538.4" height="1243.5" fill="none" stroke="#000" stroke-width="4.3"/>
<g font-family="'Liberation Sans', sans-serif" fill="#000" stroke="#fefefe" stroke-width="0.8">
<text transform="translate(353.50 1383.40) scale(1.0100 1.0500)" font-size="57.5" text-anchor="middle">400</text>
<text transform="translate(695.50 1383.40) scale(1.0100 1.0500)" font-size="57.5" text-anchor="middle">500</text>
<text transform="translate(1037.50 1383.40) scale(1.0100 1.0500)" font-size="57.5" text-anchor="middle">600</text>
<text transform="translate(1379.50 1383.40) scale(1.0100 1.0500)" font-size="57.5" text-anchor="middle">700</text>
<text transform="translate(1721.50 1383.40) scale(1.0100 1.0500)" font-size="57.5" text-anchor="middle">800</text>
<text transform="translate(219.30 1314.20) scale(1.0100 1.0500)" font-size="57.5" text-anchor="middle">0.0</text>
<text transform="translate(219.30 958.80) scale(1.0100 1.0500)" font-size="57.5" text-anchor="middle">0.3</text>
<text transform="translate(219.30 603.40) scale(1.0100 1.0500)" font-size="57.5" text-anchor="middle">0.6</text>
<text transform="translate(219.30 248.00) scale(1.0100 1.0500)" font-size="57.5" text-anchor="middle">0.9</text>
<text transform="translate(1890.30 1314.20) scale(1.0100 1.0500)" font-size="57.5" text-anchor="middle">0.0</text>
<text transform="translate(1890.30 958.80) scale(1.0100 1.0500)" font-size="57.5" text-anchor="middle">0.1</text>
<text transform="translate(1890.30 603.40) scale(1.0100 1.0500)" font-size="57.5" text-anchor="middle">0.2</text>
<text transform="translate(1890.30 248.00) scale(1.0100 1.0500)" font-size="57.5" text-anchor="middle">0.3</text>
<text transform="translate(1055.50 1487.50) scale(1.0000 0.9450)" font-size="70.7" text-anchor="middle">Wavelength (nm)</text>
<text transform="translate(114.30 640.20) rotate(-90) scale(1.0000 0.9900)" font-size="70.7" text-anchor="middle"><tspan letter-spacing="-0.3">PL intensity</tspan> <tspan letter-spacing="0.25">(rel. un.)</tspan></text>
<text transform="translate(2025.50 690.80) rotate(-90) scale(1.0000 1.0200)" font-size="70.7" text-anchor="middle">Absorption</text>
<text transform="translate(585.50 1210.20) scale(1.0000 1.0100)" font-size="88" text-anchor="middle">a</text>
<text transform="translate(748.60 599.00) scale(1.0300 1.0120)" font-size="88" text-anchor="middle">b</text>
<text transform="translate(1393.00 295.00) scale(1.0400 1.0000)" font-size="88" text-anchor="middle">c</text>
</g>
</svg>
</body>
</html>
